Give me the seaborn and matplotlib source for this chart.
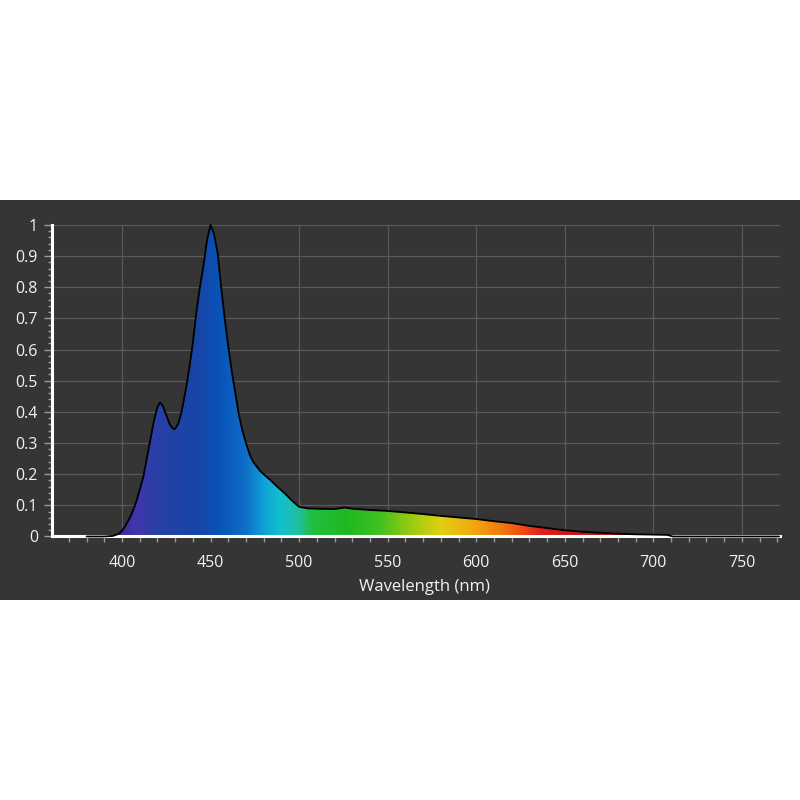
import numpy as np
import pandas as pd
import seaborn as sns
import matplotlib
matplotlib.use("Agg")
import matplotlib.pyplot as plt
from matplotlib.colors import LinearSegmentedColormap
from matplotlib.patches import Polygon, Rectangle
from matplotlib.ticker import MultipleLocator, FormatStrFormatter

# spectrum
wavelength = [380, 390, 395, 398, 400, 402, 404, 406, 408, 410, 412, 414, 416, 418,
              420, 421.5, 423, 425, 427, 429, 430, 432, 434, 436, 438, 440, 442, 444,
              446, 448, 450, 452, 454, 456, 458, 460, 462, 464, 466, 468, 470, 472,
              474, 476, 478, 480, 484, 488, 492, 496, 500, 505, 510, 520, 526, 530,
              540, 550, 560, 570, 580, 590, 600, 610, 620, 630, 640, 650, 660, 670,
              680, 690, 700, 708, 711, 720, 771]
intensity = [0, 0, 0.002, 0.008, 0.018, 0.035, 0.055, 0.08, 0.11, 0.15, 0.19, 0.25, 0.31, 0.37,
             0.415, 0.43, 0.42, 0.39, 0.36, 0.345, 0.345, 0.365, 0.41, 0.47, 0.54, 0.62, 0.72, 0.80,
             0.87, 0.95, 1.0, 0.97, 0.91, 0.80, 0.70, 0.61, 0.53, 0.46, 0.39, 0.34, 0.30, 0.265,
             0.24, 0.225, 0.21, 0.20, 0.18, 0.158, 0.138, 0.115, 0.095, 0.09, 0.089, 0.088, 0.093, 0.089,
             0.085, 0.082, 0.077, 0.072, 0.066, 0.061, 0.056, 0.049, 0.043, 0.034, 0.027, 0.020, 0.015, 0.012,
             0.009, 0.007, 0.006, 0.005, 0, 0, 0]

x_ticks = [400, 450, 500, 550, 600, 650, 700, 750]
y_ticks = [0, 0.1, 0.2, 0.3, 0.4, 0.5, 0.6, 0.7, 0.8, 0.9, 1]

# colour of the fill along the wavelength axis
spectrum_stops = [(380, "#2a1a70"), (400, "#3c2ea4"), (406, "#4236ac"), (420, "#2640a6"),
                  (443, "#1646a8"), (455, "#0854b8"), (469, "#0e6ec6"), (479, "#10a0d8"),
                  (488, "#10c0d0"), (499, "#20c0a0"), (507, "#20c040"), (526, "#20b820"),
                  (545, "#40c020"), (564, "#a0cc10"), (580, "#e0d010"), (595, "#f0b010"),
                  (612, "#f08010"), (625, "#f05010"), (636, "#e02020"), (651, "#d01818"),
                  (700, "#a01010"), (780, "#800808")]

df = pd.DataFrame({"wavelength": wavelength, "intensity": intensity})

sns.set_theme(style="dark")
plt.rcParams["font.family"] = ["Open Sans", "DejaVu Sans"]

bg = "#353535"
fig = plt.figure(figsize=(8, 8), dpi=100, facecolor="white")
fig.patches.append(Rectangle((0, 0.25), 1, 0.5, transform=fig.transFigure,
                             facecolor=bg, edgecolor="none", zorder=-10))
ax = fig.add_axes([0.065, 0.3294, 0.91, 0.3894])
ax.set_facecolor(bg)

xmin, xmax = 360.5, 771.5
lo, hi = spectrum_stops[0][0], spectrum_stops[-1][0]
cmap = LinearSegmentedColormap.from_list(
    "spec", [((w - lo) / (hi - lo), c) for w, c in spectrum_stops])
grad = np.linspace(0, 1, 800).reshape(1, -1)
im = ax.imshow(grad, cmap=cmap, aspect="auto", extent=[lo, hi, 0, 1],
               origin="lower", zorder=1, interpolation="bilinear")
poly = Polygon(np.column_stack([wavelength + [wavelength[-1], wavelength[0]],
                                intensity + [0, 0]]),
               closed=True, facecolor="none", edgecolor="none")
ax.add_patch(poly)
im.set_clip_path(poly)

sns.lineplot(data=df, x="wavelength", y="intensity", color="black",
             linewidth=1.3, ax=ax)
line = ax.lines[-1]
line.set_zorder(4)
line.set_clip_on(False)

ax.set_xlim(xmin, xmax)
ax.set_ylim(0, 1)
ax.xaxis.set_major_locator(plt.FixedLocator(x_ticks))
ax.xaxis.set_minor_locator(MultipleLocator(10))
ax.yaxis.set_major_locator(plt.FixedLocator(y_ticks))
ax.yaxis.set_minor_locator(MultipleLocator(0.02))
ax.yaxis.set_major_formatter(FormatStrFormatter("%g"))

ax.grid(True, which="major", color="#595959", linewidth=0.9, zorder=0)
ax.set_axisbelow(True)

for side in ["top", "right"]:
    ax.spines[side].set_visible(False)
for side in ["left", "bottom"]:
    ax.spines[side].set_visible(True)
    ax.spines[side].set_color("white")
    ax.spines[side].set_linewidth(2.2)
    ax.spines[side].set_zorder(3)

ax.tick_params(which="both", colors="#9a9a9a", direction="out",
               bottom=True, left=True, labelcolor="#f2f2f2", labelsize=11.5)
ax.tick_params(axis="x", which="major", length=4, width=1, pad=9)
ax.tick_params(axis="x", which="minor", length=4, width=1)
ax.tick_params(axis="y", which="major", length=6, width=1, pad=4)
ax.tick_params(axis="y", which="minor", length=3, width=1)

ax.set_xlabel("Wavelength (nm)", color="#f2f2f2", fontsize=12, labelpad=4)
ax.xaxis.set_label_coords(0.511, -0.135)
ax.set_ylabel("")

fig.savefig("out.png", dpi=100, facecolor="white")
